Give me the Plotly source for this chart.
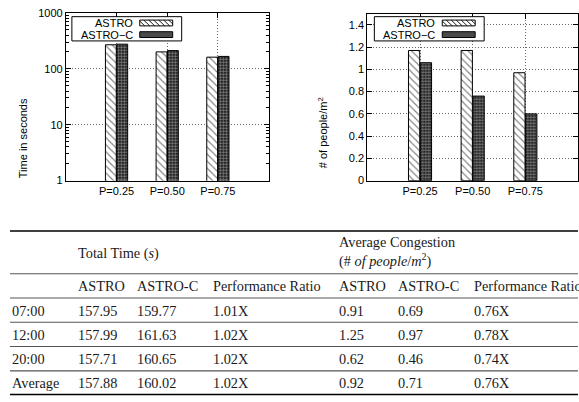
import plotly.graph_objects as go

W, H = 579, 402

# ---------------- data ----------------
categories = ["P=0.25", "P=0.50", "P=0.75"]
series_names = ["ASTRO", "ASTRO\u2212C"]
time_astro = [268, 200, 161]
time_astroc = [275, 211, 166]
cong_astro = [1.17, 1.17, 0.97]
cong_astroc = [1.06, 0.76, 0.60]

log_ticks = [1, 10, 100, 1000]
cong_ticks = [0, 0.2, 0.4, 0.6, 0.8, 1.0, 1.2, 1.4]
cong_ticktext = ["0", "0.2", "0.4", "0.6", "0.8", "1", "1.2", "1.4"]

table_groups = ["Total Time (<i>s</i>)", "Average Congestion<br>(# <i>of people</i>/<i>m</i><sup>2</sup>)"]
table_sub = ["ASTRO", "ASTRO-C", "Performance Ratio", "ASTRO", "ASTRO-C", "Performance Ratio"]
row_labels = ["07:00", "12:00", "20:00", "Average"]
tt_astro = ["157.95", "157.99", "157.71", "157.88"]
tt_astroc = ["159.77", "161.63", "160.65", "160.02"]
tt_ratio = ["1.01X", "1.02X", "1.02X", "1.02X"]
ac_astro = ["0.91", "1.25", "0.62", "0.92"]
ac_astroc = ["0.69", "0.97", "0.46", "0.71"]
ac_ratio = ["0.76X", "0.78X", "0.74X", "0.76X"]

# ---------------- helpers ----------------
def px_x(x):
    return x / W

def px_y(y):
    return 1 - y / H

SANS = "Liberation Sans, Arial, sans-serif"
SERIF = "Liberation Serif, Times New Roman, serif"

xpos = list(range(len(categories)))

pat_a = dict(shape="\\", fgcolor="black", bgcolor="white", size=5, solidity=0.22)
pat_c = dict(shape=".", fgcolor="white", bgcolor="black", size=3, solidity=0.6)

fig = go.Figure()
for xa, ya, vals_a, vals_c in (("x", "y", time_astro, time_astroc), ("x2", "y2", cong_astro, cong_astroc)):
    fig.add_trace(go.Bar(x=xpos, y=vals_a, name=series_names[0], xaxis=xa, yaxis=ya,
                         marker=dict(color="white", pattern=pat_a, line=dict(color="black", width=1))))
    fig.add_trace(go.Bar(x=xpos, y=vals_c, name=series_names[1], xaxis=xa, yaxis=ya,
                         marker=dict(color="black", pattern=pat_c, line=dict(color="black", width=1))))

GRID = dict(showgrid=True, gridcolor="#666666", griddash="1px,2px", gridwidth=1)
common_x = dict(range=[-1, 3], tickvals=xpos, ticktext=categories, ticks="inside", ticklen=5,
                tickcolor="black", showline=True, linecolor="black", linewidth=1, mirror="allticks",
                zeroline=False, tickfont=dict(family=SANS, size=11, color="black"), fixedrange=True, **GRID)
common_y = dict(ticks="inside", ticklen=5, tickcolor="black", showline=True, linecolor="black",
                linewidth=1, mirror="allticks", zeroline=False,
                tickfont=dict(family=SANS, size=11, color="black"), fixedrange=True, **GRID)

fig.update_layout(
    width=W, height=H, margin=dict(l=0, r=0, t=0, b=0),
    paper_bgcolor="white", plot_bgcolor="white",
    barmode="group", bargap=0.55, bargroupgap=0.05,
    showlegend=False,
    xaxis=dict(domain=[px_x(66), px_x(269)], anchor="y", **common_x),
    yaxis=dict(domain=[px_y(180), px_y(7)], anchor="x", type="log", range=[0, 3],
               tickvals=log_ticks, ticktext=[str(v) for v in log_ticks],
               minor=dict(ticks="inside", ticklen=3, tickcolor="black",
                          tickvals=[m * d for d in (1, 10, 100) for m in range(2, 10)], showgrid=False),
               **common_y),
    xaxis2=dict(domain=[px_x(368), px_x(579)], anchor="y2", **common_x),
    yaxis2=dict(domain=[px_y(180), px_y(8)], anchor="x2", range=[0, 1.5],
                tickvals=cong_ticks, ticktext=cong_ticktext, **common_y),
)

annotations = []
shapes = []

# axis titles
annotations.append(dict(text="Time in seconds", x=px_x(15), y=px_y(93), xref="paper", yref="paper",
                        textangle=-90, showarrow=False, font=dict(family=SANS, size=11, color="black")))
annotations.append(dict(text="# of people/m<sup>2</sup>", x=px_x(323), y=px_y(92), xref="paper", yref="paper",
                        textangle=-90, showarrow=False, font=dict(family=SANS, size=11, color="black")))

# ---- manual gnuplot-style legends (text, then swatch on the right) ----
def legend_box(x0):
    bw, y0, y1 = 110, 11, 36
    shapes.append(dict(type="rect", xref="paper", yref="paper", x0=px_x(x0), x1=px_x(x0 + bw),
                       y0=px_y(y1), y1=px_y(y0), fillcolor="white", line=dict(color="black", width=1)))
    rows = [17.5, 29.5]
    for i, name in enumerate(series_names):
        yc = rows[i]
        annotations.append(dict(text=name, x=px_x(x0 + 63), y=px_y(yc), xref="paper", yref="paper",
                                xanchor="right", yanchor="middle", showarrow=False,
                                font=dict(family=SANS, size=11, color="black")))
        sx0, sx1 = x0 + 68, x0 + 101
        sy0, sy1 = yc - 3, yc + 3
        if i == 0:
            shapes.append(dict(type="rect", xref="paper", yref="paper", x0=px_x(sx0), x1=px_x(sx1),
                               y0=px_y(sy1), y1=px_y(sy0), fillcolor="white",
                               line=dict(color="black", width=1)))
            segs = []
            step = 5
            h = sy1 - sy0
            xs = sx0 - h
            while xs < sx1:
                ax, ay = xs, sy0
                bx, by = xs + h, sy1
                if ax < sx0:
                    ay = sy0 + (sx0 - ax)
                    ax = sx0
                if bx > sx1:
                    by = sy1 - (bx - sx1)
                    bx = sx1
                if bx > ax:
                    segs.append(f"M{px_x(ax)},{px_y(ay)} L{px_x(bx)},{px_y(by)}")
                xs += step
            shapes.append(dict(type="path", xref="paper", yref="paper", path=" ".join(segs),
                               line=dict(color="black", width=0.9)))
        else:
            shapes.append(dict(type="rect", xref="paper", yref="paper", x0=px_x(sx0), x1=px_x(sx1),
                               y0=px_y(sy1), y1=px_y(sy0), fillcolor="#4a4a4a",
                               line=dict(color="black", width=1)))

legend_box(72)
legend_box(375)

# ---- table ----
tfont = dict(family=SERIF, size=14.3, color="#1a1a1a")
col_x = [10, 76, 135, 211, 338, 397, 473]
row_y = [314, 339, 364, 389]

annotations.append(dict(text=table_groups[0], x=px_x(col_x[1]), y=px_y(255), xref="paper", yref="paper",
                        xanchor="left", yanchor="middle", showarrow=False, font=tfont))
annotations.append(dict(text=table_groups[1], x=px_x(col_x[4]), y=px_y(254), xref="paper", yref="paper",
                        xanchor="left", yanchor="middle", showarrow=False, font=tfont, align="left"))
for i, t in enumerate(table_sub):
    annotations.append(dict(text=t, x=px_x(col_x[i + 1]), y=px_y(289), xref="paper", yref="paper",
                            xanchor="left", yanchor="middle", showarrow=False, font=tfont))
cols = [row_labels, tt_astro, tt_astroc, tt_ratio, ac_astro, ac_astroc, ac_ratio]
for ci, col in enumerate(cols):
    for ri, val in enumerate(col):
        annotations.append(dict(text=val, x=px_x(col_x[ci]), y=px_y(row_y[ri]), xref="paper", yref="paper",
                                xanchor="left", yanchor="middle", showarrow=False, font=tfont))

def hline(y, color, width):
    shapes.append(dict(type="line", xref="paper", yref="paper", x0=px_x(10), x1=1.0,
                       y0=px_y(y), y1=px_y(y), line=dict(color=color, width=width)))

hline(232, "black", 1.5)
for y in (276, 301, 326, 351, 376):
    hline(y, "#555555", 1.2)
hline(400.5, "black", 1.5)

fig.update_layout(annotations=annotations, shapes=shapes)

fig.write_html("out.html", config={"displayModeBar": False, "staticPlot": True},
               post_script="document.body.style.margin='0';document.body.style.padding='0';"
                           "document.body.style.overflow='hidden';")
